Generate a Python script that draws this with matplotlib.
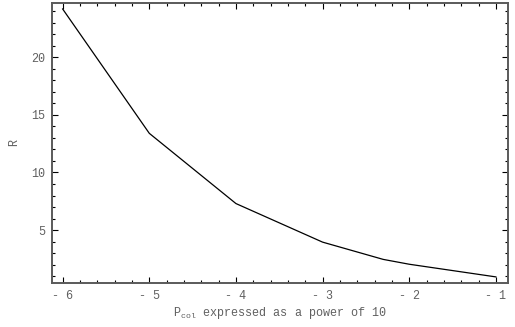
import matplotlib
matplotlib.use("Agg")
import matplotlib.pyplot as plt
from matplotlib.ticker import FixedLocator, MultipleLocator

# values
log_pcol = [-6, -5, -4, -3, -2.3, -2, -1]
r_values = [24.2, 13.4, 7.3, 3.95, 2.45, 2.03, 0.93]

x_ticks = [-6, -5, -4, -3, -2, -1]
x_labels = ["- 6", "- 5", "- 4", "- 3", "- 2", "- 1"]
y_ticks = [5, 10, 15, 20]
y_labels = ["5", "10", "15", "20"]

mono = "Liberation Mono"
frame_col = "#5a5a5a"
text_col = "#606060"

plt.rcParams["mathtext.fontset"] = "custom"
plt.rcParams["mathtext.rm"] = mono
plt.rcParams["mathtext.it"] = mono

fig = plt.figure(figsize=(5.15, 3.27), dpi=100)
ax = fig.add_axes([52 / 515, 1 - 283 / 327, 456 / 515, 280 / 327])

ax.plot(log_pcol, r_values, color="black", linewidth=0.9)

ax.set_xlim(-6.123, -0.86)
ax.set_ylim(0.4, 24.72)

ax.xaxis.set_major_locator(FixedLocator(x_ticks))
ax.set_xticklabels(x_labels)
ax.xaxis.set_minor_locator(MultipleLocator(0.2))
ax.yaxis.set_major_locator(FixedLocator(y_ticks))
ax.set_yticklabels(y_labels)
ax.yaxis.set_minor_locator(MultipleLocator(1))

ax.tick_params(which="both", direction="in", top=True, right=True,
               color="black", width=0.8, labelcolor=text_col, labelsize=8.5)
ax.tick_params(which="major", length=4.5, pad=5)
ax.tick_params(which="minor", length=2.5)
for lbl in ax.get_xticklabels() + ax.get_yticklabels():
    lbl.set_family(mono)

for sp in ax.spines.values():
    sp.set_color(frame_col)
    sp.set_linewidth(1.4)

ax.set_xlabel(r"P$_{\mathrm{col}}$ expressed as a power of 10", family=mono,
              fontsize=8.5, color=text_col, labelpad=2.5)
ax.set_ylabel("R", family=mono, fontsize=8.5, color=text_col, labelpad=8)

fig.savefig("out.png", dpi=100)
